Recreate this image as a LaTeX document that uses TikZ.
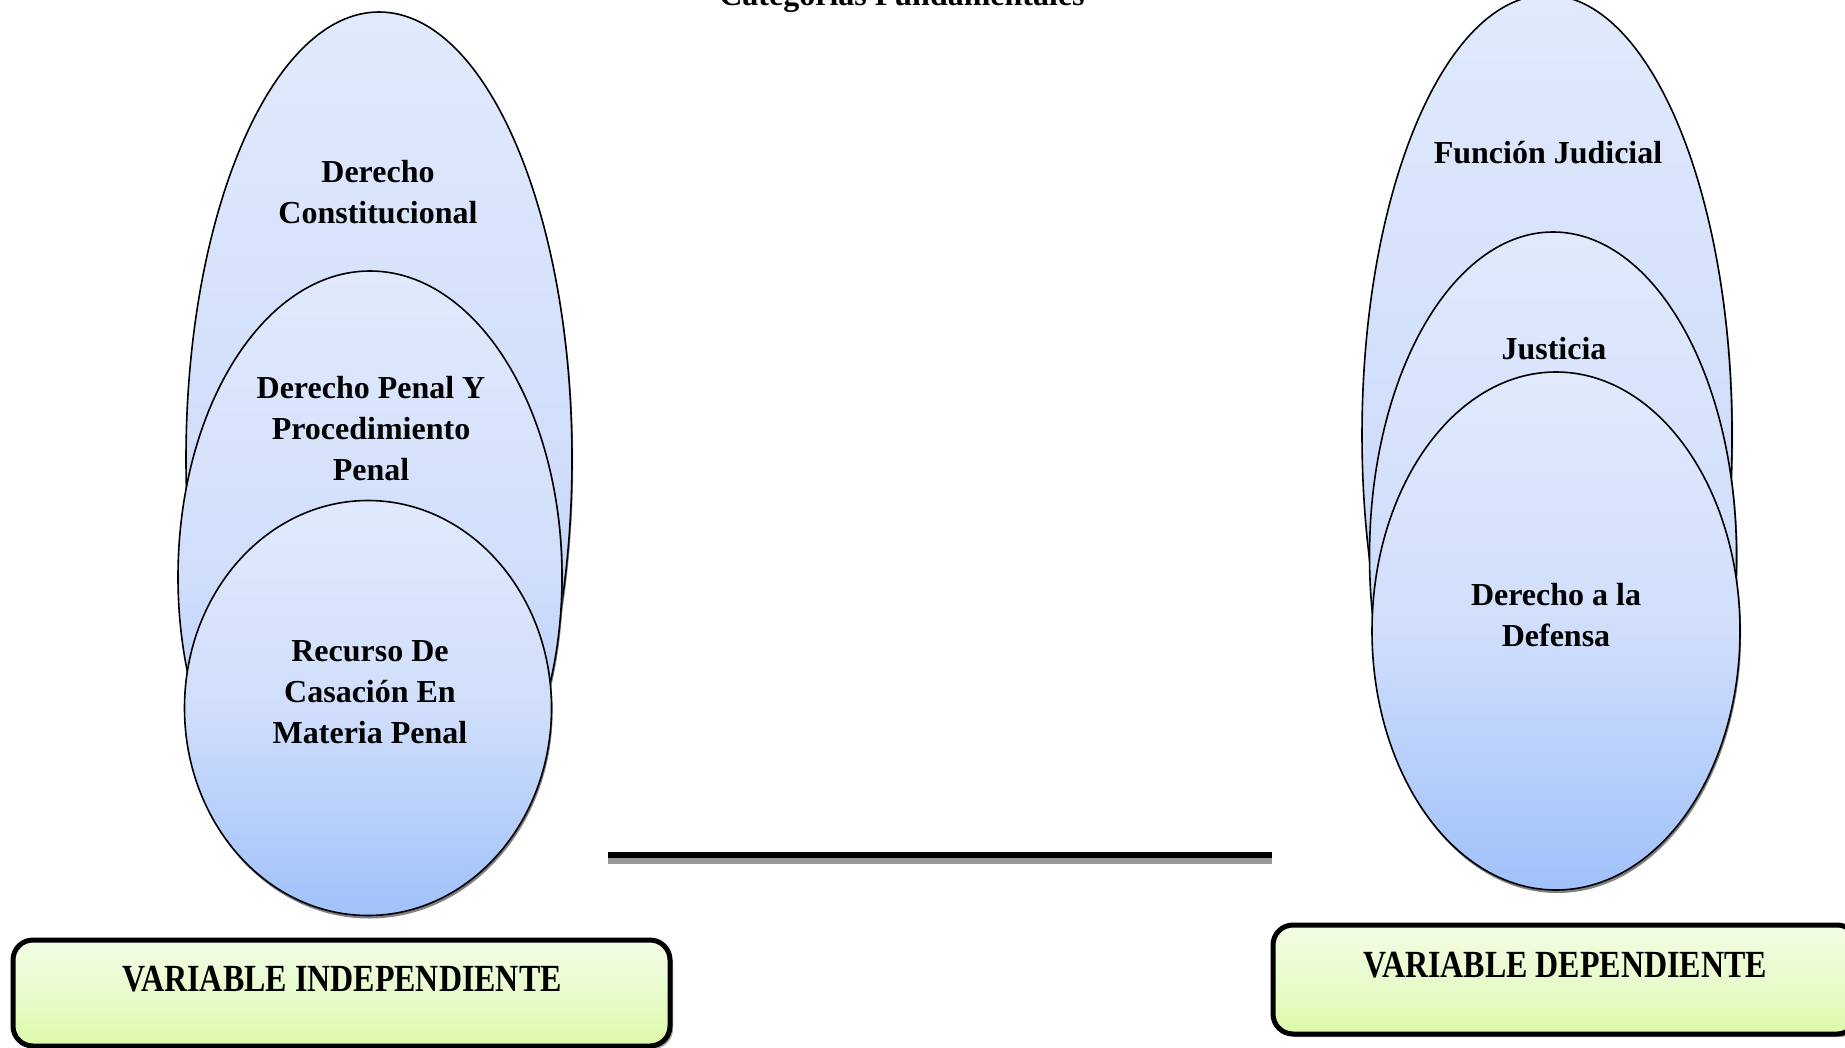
\documentclass[tikz,border=0pt]{standalone}
\usepackage{fontspec}
\setmainfont{Liberation Serif}
\usetikzlibrary{shapes.geometric,shadows}
\definecolor{azularriba}{RGB}{225,234,252}
\definecolor{azulmedio}{RGB}{208,222,251}
\definecolor{azulabajo}{RGB}{160,193,250}
\definecolor{verdearriba}{RGB}{243,252,228}
\definecolor{verdemedio}{RGB}{233,251,205}
\definecolor{verdeabajo}{RGB}{219,250,170}
\tikzstyle{elipse}=[ellipse, draw=black, line width=0.8pt, inner sep=0pt, outer sep=0pt, top color=azularriba, bottom color=azulabajo, middle color=azulmedio, drop shadow={shadow xshift=0.6pt, shadow yshift=-1.5pt, fill=black!70, opacity=0.7}]
\tikzstyle{caja}=[rectangle, rounded corners=10pt, line width=2.5pt, draw=black, inner sep=0pt, top color=verdearriba, bottom color=verdeabajo, middle color=verdemedio, drop shadow={shadow xshift=1.5pt, shadow yshift=-1.5pt, fill=black!45, opacity=0.8}]
\tikzstyle{annot} = [align=center, inner sep=0pt, font=\bfseries\fontsize{16}{20.5}\selectfont]

\begin{document}
\begin{tikzpicture}[x=0.5pt, y=-0.5pt]
	\useasboundingbox (0,0) rectangle (1845,1048);

	\node[annot, anchor=base](titulo) at (902,6){Categorías Fundamentales};

	% variable independiente
	\node[elipse, minimum width=193pt, minimum height=447pt](constitucional) at (379,459){};
	\node[elipse, minimum width=192pt, minimum height=306pt](penal) at (370,577){};
	\node[elipse, minimum width=183.5pt, minimum height=207.5pt](recurso) at (368,708){};
	\node[annot](tconst) at (378,192){Derecho\\Constitucional};
	\node[annot](tpenal) at (371,429){Derecho Penal Y\\Procedimiento\\Penal};
	\node[annot](trecurso) at (370,692){Recurso De\\Casación En\\Materia Penal};

	% variable dependiente
	\node[elipse, minimum width=185pt, minimum height=440pt](funcion) at (1547,435){};
	\node[elipse, minimum width=183.5pt, minimum height=324pt](justicia) at (1553,556){};
	\node[elipse, minimum width=184pt, minimum height=259pt](defensa) at (1556,631){};
	\node[annot, anchor=base](tfuncion) at (1548,164){Función Judicial};
	\node[annot, anchor=base](tjusticia) at (1554,359){Justicia};
	\node[annot](tdefensa) at (1556,615){Derecho a la\\Defensa};

	% linea central
	\coordinate (lineaizq) at (608,855);
	\coordinate (linead) at (1272,855);
	\draw[line width=3pt, black!40] ([yshift=-3pt]lineaizq) -- ([yshift=-3pt]linead);
	\draw[line width=3pt] (lineaizq) -- (linead);

	\node[caja, minimum width=328.5pt, minimum height=53pt](indep) at (341.5,993){};
	\node[caja, minimum width=292pt, minimum height=54.5pt](dep) at (1565,979.5){};
	\node[annot](tindep) at (342,979){\scalebox{1}[1.2]{VARIABLE INDEPENDIENTE}};
	\node[annot](tdep) at (1565,965){\scalebox{1}[1.2]{VARIABLE DEPENDIENTE}};

\end{tikzpicture}
\end{document}
